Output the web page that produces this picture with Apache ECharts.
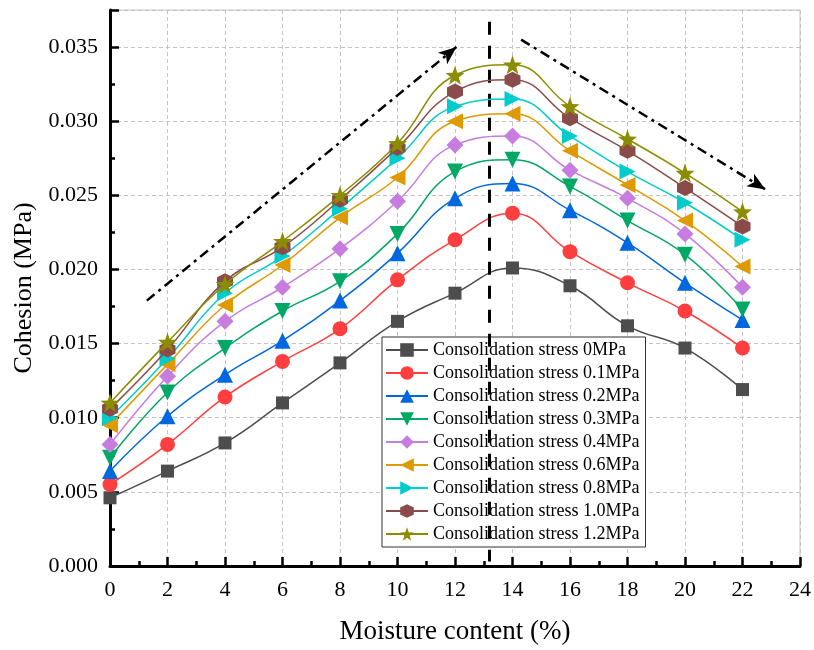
<!DOCTYPE html>
<html>
<head>
<meta charset="utf-8">
<script src="https://cdn.jsdelivr.net/npm/echarts@6/dist/echarts.min.js"></script>
<style>
  html, body { margin: 0; padding: 0; background: #fff; }
  #chart { width: 814px; height: 650px; }
</style>
</head>
<body>
<div id="chart"></div>
<script>
// moisture content (%) on the x axis
const moisture = [0, 2, 4, 6, 8, 10, 12, 14, 16, 18, 20, 22];

// cohesion (MPa) per consolidation stress
const stress0 = [0.0046, 0.0064, 0.0083, 0.0110, 0.0137, 0.0165, 0.0184, 0.0201, 0.0189, 0.0162, 0.0147, 0.0119];
const stress01 = [0.0055, 0.0082, 0.0114, 0.0138, 0.0160, 0.0193, 0.0220, 0.0238, 0.0212, 0.0191, 0.0172, 0.0147];
const stress02 = [0.0064, 0.0101, 0.0129, 0.0152, 0.0179, 0.0211, 0.0248, 0.0258, 0.0240, 0.0218, 0.0191, 0.0166];
const stress03 = [0.0073, 0.0117, 0.0147, 0.0172, 0.0192, 0.0224, 0.0266, 0.0274, 0.0256, 0.0233, 0.0210, 0.0173];
const stress04 = [0.0082, 0.0128, 0.0165, 0.0188, 0.0214, 0.0246, 0.0284, 0.0290, 0.0267, 0.0248, 0.0224, 0.0188];
const stress06 = [0.0095, 0.0136, 0.0176, 0.0203, 0.0235, 0.0262, 0.0300, 0.0305, 0.0280, 0.0257, 0.0233, 0.0202];
const stress08 = [0.0100, 0.0140, 0.0184, 0.0209, 0.0241, 0.0275, 0.0310, 0.0315, 0.0290, 0.0266, 0.0245, 0.0220];
const stress10 = [0.0106, 0.0146, 0.0192, 0.0215, 0.0247, 0.0282, 0.0320, 0.0328, 0.0302, 0.0280, 0.0255, 0.0229];
const stress12 = [0.0110, 0.0151, 0.0190, 0.0219, 0.0250, 0.0285, 0.0331, 0.0338, 0.0310, 0.0288, 0.0265, 0.0239];

const seriesNames = [
  'Consolidation stress 0MPa', 'Consolidation stress 0.1MPa', 'Consolidation stress 0.2MPa',
  'Consolidation stress 0.3MPa', 'Consolidation stress 0.4MPa', 'Consolidation stress 0.6MPa',
  'Consolidation stress 0.8MPa', 'Consolidation stress 1.0MPa', 'Consolidation stress 1.2MPa'
];

// annotation lines, in data coordinates
const peakLine = [[13.2, 0.0367], [13.2, 0.0003]];
const riseArrow = [[1.28, 0.0179], [12.05, 0.0350]];
const fallArrow = [[14.3, 0.0355], [22.8, 0.0254]];

const font = "'Liberation Serif', 'Times New Roman', serif";
const hexagon = 'path://M0,-10L8.66,-5L8.66,5L0,10L-8.66,5L-8.66,-5Z';
const diamond = 'path://M0,-10L10,0L0,10L-10,0Z';
const star = 'path://M0,-10L2.35,-3.24L9.51,-3.09L3.8,1.24L5.88,8.09L0,4L-5.88,8.09L-3.8,1.24L-9.51,-3.09L-2.35,-3.24Z';

const styles = [
  { color: '#4d4d4d', symbol: 'rect', size: 13, rotate: 0 },
  { color: '#ff3f3f', symbol: 'circle', size: 15, rotate: 0 },
  { color: '#0068de', symbol: 'triangle', size: 16, rotate: 0 },
  { color: '#00a865', symbol: 'triangle', size: 16, rotate: 180 },
  { color: '#c77ce0', symbol: diamond, size: 17, rotate: 0 },
  { color: '#de9a00', symbol: 'triangle', size: 16, rotate: 90 },
  { color: '#00cccc', symbol: 'triangle', size: 16, rotate: -90 },
  { color: '#8b4b4b', symbol: hexagon, size: 16, rotate: 0 },
  { color: '#8c8c00', symbol: star, size: 19, rotate: 0 }
];

const allValues = [stress0, stress01, stress02, stress03, stress04, stress06, stress08, stress10, stress12];

const series = allValues.map((vals, i) => ({
  name: seriesNames[i],
  type: 'line',
  smooth: 0.45,
  data: moisture.map((m, j) => [m, vals[j]]),
  symbol: styles[i].symbol,
  symbolSize: styles[i].size,
  symbolRotate: styles[i].rotate,
  itemStyle: { color: styles[i].color },
  lineStyle: { color: styles[i].color, width: 1.5 },
  z: 3 + i
}));

const dashDot = [10, 5, 3, 5];
series.push({
  name: 'annotations',
  type: 'line',
  data: [],
  silent: true,
  markLine: {
    silent: true,
    animation: false,
    label: { show: false },
    emphasis: { disabled: true },
    data: [
      [{ coord: peakLine[0], symbol: 'none', lineStyle: { color: '#000', width: 3, type: [13, 11] } },
       { coord: peakLine[1], symbol: 'none' }],
      [{ coord: riseArrow[0], symbol: 'none', lineStyle: { color: '#000', width: 2.5, type: dashDot } },
       { coord: riseArrow[1], symbol: 'arrow', symbolSize: [11, 18] }],
      [{ coord: fallArrow[0], symbol: 'none', lineStyle: { color: '#000', width: 2.5, type: dashDot } },
       { coord: fallArrow[1], symbol: 'arrow', symbolSize: [11, 18] }]
    ]
  }
});

const chart = echarts.init(document.getElementById('chart'));
chart.setOption({
  animation: false,
  grid: {
    left: 110, right: 12, top: 10, bottom: 83,
    show: true, borderColor: '#c4c4c4', borderWidth: 1
  },
  legend: {
    data: seriesNames,
    orient: 'vertical',
    left: 382, top: 337,
    padding: [4, 6, 4, 3],
    itemGap: 5,
    itemWidth: 42,
    itemHeight: 17,
    backgroundColor: '#fff',
    borderColor: '#333',
    borderWidth: 1,
    borderRadius: 0,
    textStyle: { fontFamily: font, fontSize: 18, color: '#000', padding: [0, 0, 0, 0] }
  },
  xAxis: {
    type: 'value',
    min: 0, max: 24, interval: 2,
    name: 'Moisture content (%)',
    nameLocation: 'middle',
    nameGap: 52,
    nameTextStyle: { fontFamily: font, fontSize: 27, color: '#000' },
    axisLine: { lineStyle: { color: '#000', width: 3 } },
    axisTick: { inside: true, length: 9, lineStyle: { color: '#000', width: 2.5 } },
    minorTick: { show: true, splitNumber: 2, length: 5, lineStyle: { color: '#000', width: 2.5 } },
    axisLabel: { fontFamily: font, fontSize: 22, color: '#000', margin: 13 },
    splitLine: { show: true, lineStyle: { color: '#c4c4c4', width: 1, type: [4, 3] } }
  },
  yAxis: {
    type: 'value',
    min: 0, max: 0.0375, interval: 0.005,
    name: 'Cohesion (MPa)',
    nameLocation: 'middle',
    nameGap: 67,
    nameTextStyle: { fontFamily: font, fontSize: 26, color: '#000' },
    axisLine: { lineStyle: { color: '#000', width: 3 } },
    axisTick: { inside: true, length: 9, lineStyle: { color: '#000', width: 2.5 } },
    minorTick: { show: true, splitNumber: 2, length: 5, lineStyle: { color: '#000', width: 2.5 } },
    axisLabel: {
      fontFamily: font, fontSize: 22, color: '#000', margin: 12,
      showMaxLabel: false,
      formatter: v => v.toFixed(3)
    },
    splitLine: { show: true, lineStyle: { color: '#c4c4c4', width: 1, type: [4, 3] } }
  },
  series: series
});
</script>
</body>
</html>
